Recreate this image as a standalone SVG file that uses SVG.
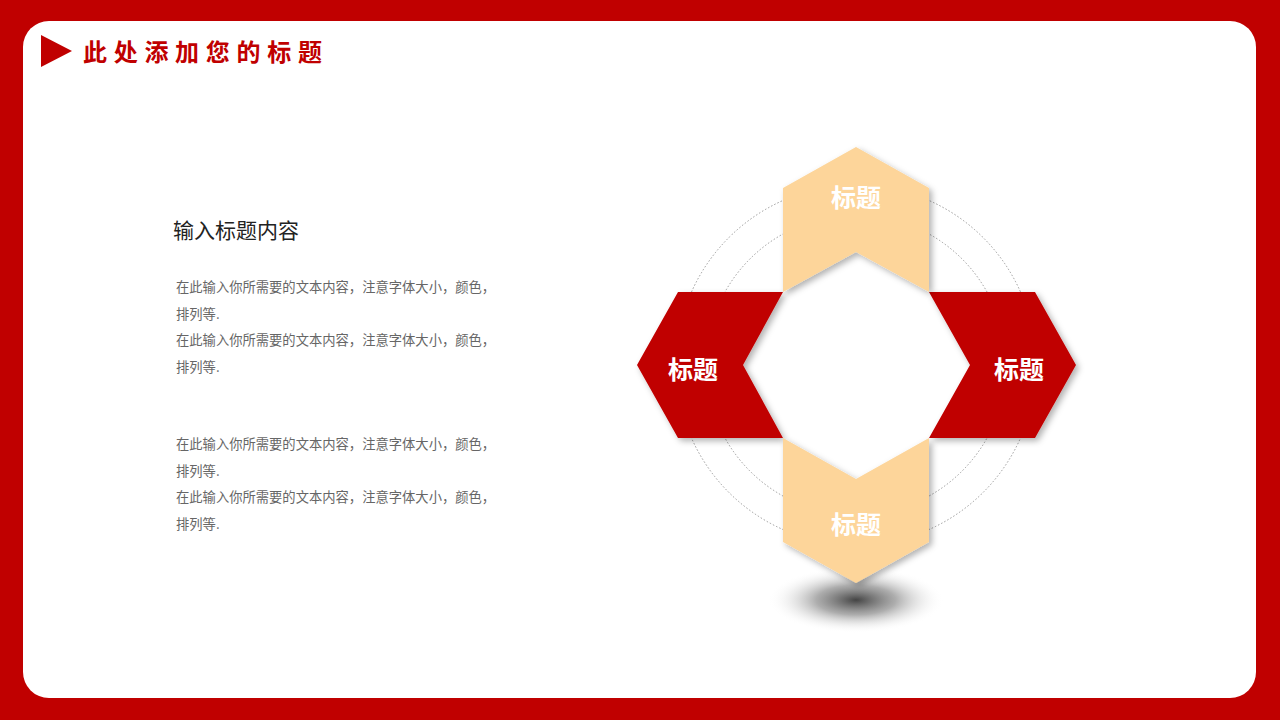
<svg xmlns="http://www.w3.org/2000/svg" width="1280" height="720" viewBox="0 0 1280 720">
<style>
.title{font-family:"Noto Sans CJK SC",sans-serif;font-weight:bold;font-size:24px;fill:#C00000;letter-spacing:6.7px}
.sub{font-family:"Noto Sans CJK SC",sans-serif;font-size:21px;fill:#222}
.body{font-family:"Noto Sans CJK SC",sans-serif;font-size:13.3px;fill:#666}
.lbl{font-family:"Noto Sans CJK SC",sans-serif;font-weight:bold;font-size:25px;fill:#fff;text-anchor:middle}
.red{fill:#C00000}
.tan{fill:#FDD59A}
.ring{fill:none;stroke:#9a9a9a;stroke-width:1;stroke-dasharray:1.5 2}
</style>
<defs>
<filter id="sh" x="-20%" y="-20%" width="140%" height="140%">
<feDropShadow dx="3" dy="3" stdDeviation="3" flood-color="#000" flood-opacity="0.3"/>
</filter>
<radialGradient id="gs" cx="0.5" cy="0.5" r="0.5">
<stop offset="0" stop-color="#444"/>
<stop offset="0.45" stop-color="#8a8a8a" stop-opacity="0.7"/>
<stop offset="1" stop-color="#fff" stop-opacity="0"/>
</radialGradient>
</defs>
<rect x="0" y="0" width="1280" height="720" fill="#C00000"/>
<rect x="23" y="21" width="1233" height="677" rx="26" fill="#fff"/>
<g id="header">
<polygon points="41,35 72,51 41,67" fill="#C00000"/>
<text class="title" x="83" y="61">此处添加您的标题</text>
</g>
<g id="text-content">
<text class="sub" x="173" y="238">输入标题内容</text>
<text class="body" x="176" y="292">在此输入你所需要的文本内容，注意字体大小，颜色，</text>
<text class="body" x="176" y="319">排列等.</text>
<text class="body" x="176" y="345">在此输入你所需要的文本内容，注意字体大小，颜色，</text>
<text class="body" x="176" y="372">排列等.</text>
<text class="body" x="176" y="449">在此输入你所需要的文本内容，注意字体大小，颜色，</text>
<text class="body" x="176" y="476">排列等.</text>
<text class="body" x="176" y="502">在此输入你所需要的文本内容，注意字体大小，颜色，</text>
<text class="body" x="176" y="529">排列等.</text>
</g>
<g id="rings">
<circle class="ring" cx="856" cy="365" r="180"/>
<circle class="ring" cx="856" cy="365" r="150"/>
</g>
<ellipse id="ground-shadow" cx="856" cy="600" rx="88" ry="33" fill="url(#gs)"/>
<g id="node-left">
<polygon class="red" filter="url(#sh)" points="678,292 783,292 743,365 783,438 678,438 637,365"/>
<text class="lbl" x="693" y="379">标题</text>
</g>
<g id="node-right">
<polygon class="red" filter="url(#sh)" points="929,292 1035,292 1076,365 1035,438 929,438 970,365"/>
<text class="lbl" x="1019" y="379">标题</text>
</g>
<g id="node-top">
<polygon class="tan" filter="url(#sh)" points="856,147 929,188 929,292 856,252 783,292 783,188"/>
<text class="lbl" x="856" y="207">标题</text>
</g>
<g id="node-bottom">
<polygon class="tan" filter="url(#sh)" points="783,438 856,479 929,438 929,542 856,583 783,542"/>
<text class="lbl" x="856" y="534">标题</text>
</g>
</svg>
